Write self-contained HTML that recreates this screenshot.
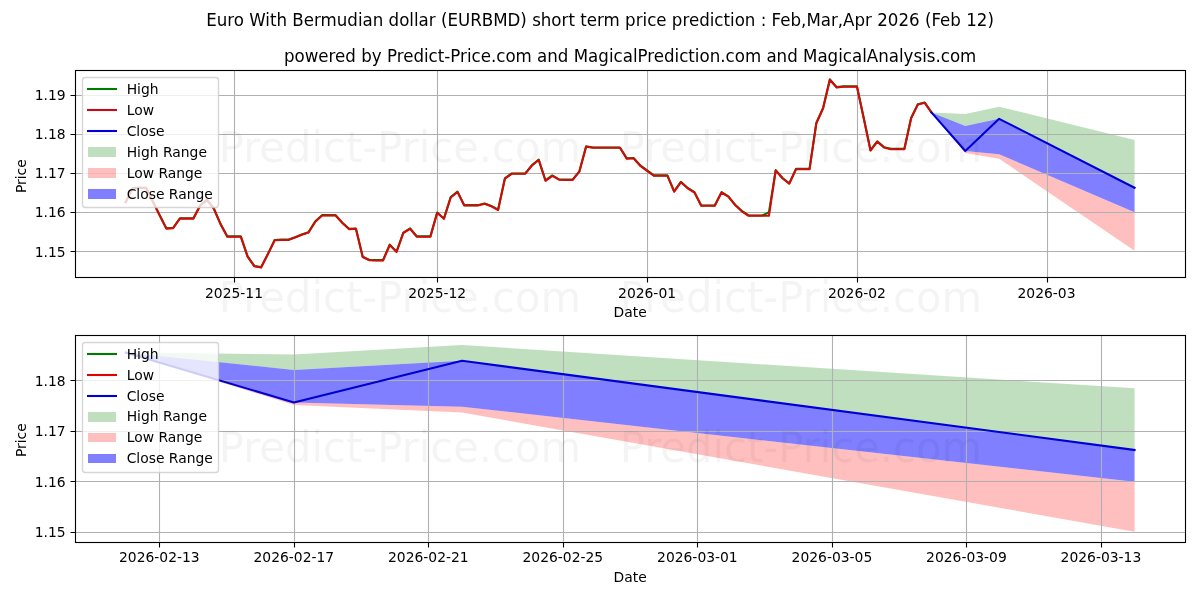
<!DOCTYPE html>
<html lang="en">
<head>
<meta charset="utf-8">
<title>Euro With Bermudian dollar (EURBMD) short term price prediction</title>
<style>
html,body{margin:0;padding:0;background:#fff;}
body{width:1200px;height:600px;overflow:hidden;}
svg{display:block;}
</style>
</head>
<body>
<svg width="1200" height="600" viewBox="0 0 1200 600" font-family="'DejaVu Sans', 'Liberation Sans', sans-serif" font-size="13.889" fill="#000">
<rect width="1200" height="600" fill="#fff"/>
<clipPath id="c1"><rect x="75.28" y="70.33" width="1109.72" height="206.56"/></clipPath>
<clipPath id="c2"><rect x="75.28" y="335.17" width="1109.72" height="206.56"/></clipPath>
<g clip-path="url(#c1)">
<polygon points="931.44,112.42 965.29,113.97 999.14,106.63 1134.56,140.08 1134.56,187.75 999.14,118.83 965.29,125.94 931.44,112.42" fill="#008000" fill-opacity="0.25"/>
<polygon points="931.44,112.42 965.29,151.05 999.14,154.3 1134.56,212.24 1134.56,250.87 999.14,158.78 965.29,152.98 931.44,112.42" fill="#ff0000" fill-opacity="0.25"/>
<polygon points="931.44,112.42 965.29,125.94 999.14,118.83 1134.56,187.75 1134.56,212.24 999.14,154.3 965.29,151.05 931.44,112.42" fill="#0000ff" fill-opacity="0.5"/>
<path d="M234.5 276.89V70.33M437.5 276.89V70.33M647.5 276.89V70.33M857.5 276.89V70.33M1047.5 276.89V70.33M75.28 95.5H1185M75.28 134.5H1185M75.28 173.5H1185M75.28 212.5H1185M75.28 251.5H1185" fill="none" stroke="#b0b0b0" stroke-width="1.111"/>
</g>
<path d="M234.5 277.5V282.5M437.5 277.5V282.5M647.5 277.5V282.5M857.5 277.5V282.5M1047.5 277.5V282.5M75.5 95.5H70.5M75.5 134.5H70.5M75.5 173.5H70.5M75.5 212.5H70.5M75.5 251.5H70.5" fill="none" stroke="#000" stroke-width="1.111"/>
<text x="234.05" y="298" text-anchor="middle">2025-11</text>
<text x="437.17" y="298" text-anchor="middle">2025-12</text>
<text x="647.07" y="298" text-anchor="middle">2026-01</text>
<text x="856.96" y="298" text-anchor="middle">2026-02</text>
<text x="1046.54" y="298" text-anchor="middle">2026-03</text>
<text x="65.56" y="257" text-anchor="end">1.15</text>
<text x="65.56" y="217" text-anchor="end">1.16</text>
<text x="65.56" y="178" text-anchor="end">1.17</text>
<text x="65.56" y="139" text-anchor="end">1.18</text>
<text x="65.56" y="100" text-anchor="end">1.19</text>
<text x="630.14" y="317" text-anchor="middle">Date</text>
<text transform="translate(26 176.2) rotate(-90)" text-anchor="middle">Price</text>
<g clip-path="url(#c1)" fill="none" stroke-width="2.083" stroke-linejoin="round" stroke-linecap="square">
<polyline points="125.72,201.85 132.49,188.15 139.26,187.65 146.03,187.65 152.8,201.25 159.57,214.85 166.34,228.25 173.11,227.85 179.89,218.25 186.66,218.25 193.43,218.25 200.2,205.35 206.97,199.65 213.74,208.25 220.51,223.85 227.28,236.35 234.05,236.35 240.82,236.35 247.59,256.35 254.36,265.95 261.13,267.15 267.9,253.85 274.68,239.95 281.45,239.65 288.22,239.65 294.99,237.25 301.76,234.45 308.53,232.15 315.3,221.35 322.07,215.15 328.84,215.15 335.61,215.15 342.38,222.65 349.15,228.85 355.92,228.45 362.7,256.65 369.47,259.95 376.24,260.15 383.01,260.15 389.78,244.65 396.55,251.65 403.32,232.65 410.09,228.45 416.86,236.35 423.63,236.35 430.4,236.35 437.17,212.45 443.94,218.45 450.71,197.15 457.49,191.65 464.26,205.15 471.03,205.15 477.8,205.15 484.57,203.45 491.34,205.95 498.11,209.65 504.88,178.35 511.65,173.45 518.42,173.45 525.19,173.45 531.96,165.15 538.73,159.65 545.5,180.45 552.28,175.45 559.05,179.35 565.82,179.65 572.59,179.65 579.36,171.35 586.13,146.35 592.9,147.45 599.67,147.45 606.44,147.45 613.21,147.45 619.98,147.45 626.75,158.35 633.52,157.95 640.29,165.45 647.07,170.45 653.84,175.35 660.61,175.35 667.38,175.35 674.15,191.35 680.92,181.85 687.69,187.95 694.46,192.15 701.23,205.45 708,205.45 714.77,205.45 721.54,192.15 728.31,196.35 735.09,204.65 741.86,210.95 748.63,215.45 755.4,215.45 762.17,215.45 768.94,212.3 775.71,170.15 782.48,177.95 789.25,183.35 796.02,168.85 802.79,168.85 809.56,168.85 816.33,122.95 823.1,107.95 829.88,79.35 836.65,87.15 843.42,86.35 850.19,86.35 856.96,86.35 863.73,117.95 870.5,150.15 877.27,141.35 884.04,147.15 890.81,148.85 897.58,148.85 904.35,148.85 911.12,117.95 917.89,104.15 924.67,102.45 931.44,112.15" stroke="#007a00"/>
<polyline points="125.72,202.2 132.49,188.5 139.26,188 146.03,188 152.8,201.6 159.57,215.2 166.34,228.6 173.11,228.2 179.89,218.6 186.66,218.6 193.43,218.6 200.2,205.7 206.97,200 213.74,208.6 220.51,224.2 227.28,236.7 234.05,236.7 240.82,236.7 247.59,256.7 254.36,266.3 261.13,267.5 267.9,254.2 274.68,240.3 281.45,240 288.22,240 294.99,237.6 301.76,234.8 308.53,232.5 315.3,221.7 322.07,215.5 328.84,215.5 335.61,215.5 342.38,223 349.15,229.2 355.92,228.8 362.7,257 369.47,260.3 376.24,260.5 383.01,260.5 389.78,245 396.55,252 403.32,233 410.09,228.8 416.86,236.7 423.63,236.7 430.4,236.7 437.17,212.8 443.94,218.8 450.71,197.5 457.49,192 464.26,205.5 471.03,205.5 477.8,205.5 484.57,203.8 491.34,206.3 498.11,210 504.88,178.7 511.65,173.8 518.42,173.8 525.19,173.8 531.96,165.5 538.73,160 545.5,180.8 552.28,175.8 559.05,179.7 565.82,180 572.59,180 579.36,171.7 586.13,146.7 592.9,147.8 599.67,147.8 606.44,147.8 613.21,147.8 619.98,147.8 626.75,158.7 633.52,158.3 640.29,165.8 647.07,170.8 653.84,175.7 660.61,175.7 667.38,175.7 674.15,191.7 680.92,182.2 687.69,188.3 694.46,192.5 701.23,205.8 708,205.8 714.77,205.8 721.54,192.5 728.31,196.7 735.09,205 741.86,211.3 748.63,215.8 755.4,215.8 762.17,215.8 768.94,215.8 775.71,170.5 782.48,178.3 789.25,183.7 796.02,169.2 802.79,169.2 809.56,169.2 816.33,123.3 823.1,108.3 829.88,79.7 836.65,87.5 843.42,86.7 850.19,86.7 856.96,86.7 863.73,118.3 870.5,150.5 877.27,141.7 884.04,147.5 890.81,149.2 897.58,149.2 904.35,149.2 911.12,118.3 917.89,104.5 924.67,102.8 931.44,112.5" stroke="#d40a0a"/>
<polyline points="931.44,112.42 965.29,151.05 999.14,118.83 1134.56,187.75" stroke="#0000d4"/>
</g>
<rect x="75.5" y="70.5" width="1110" height="207" fill="none" stroke="#000" stroke-width="1.111"/>
<text transform="translate(630.14 62) scale(1 1.09)" text-anchor="middle" font-size="16.667">powered by Predict-Price.com and MagicalPrediction.com and MagicalAnalysis.com</text>
<g clip-path="url(#c2)">
<polygon points="125.72,352.5 293.86,354.5 462,345 1134.56,388.3 1134.56,450 462,360.8 293.86,370 125.72,352.5" fill="#008000" fill-opacity="0.25"/>
<polygon points="125.72,352.5 293.86,402.5 462,406.7 1134.56,481.7 1134.56,531.7 462,412.5 293.86,405 125.72,352.5" fill="#ff0000" fill-opacity="0.25"/>
<polygon points="125.72,352.5 293.86,370 462,360.8 1134.56,450 1134.56,481.7 462,406.7 293.86,402.5 125.72,352.5" fill="#0000ff" fill-opacity="0.5"/>
<path d="M159.5 541.72V335.17M294.5 541.72V335.17M428.5 541.72V335.17M563.5 541.72V335.17M697.5 541.72V335.17M832.5 541.72V335.17M966.5 541.72V335.17M1101.5 541.72V335.17M75.28 380.5H1185M75.28 431.5H1185M75.28 481.5H1185M75.28 532.5H1185" fill="none" stroke="#b0b0b0" stroke-width="1.111"/>
</g>
<path d="M159.5 542.5V547.5M294.5 542.5V547.5M428.5 542.5V547.5M563.5 542.5V547.5M697.5 542.5V547.5M832.5 542.5V547.5M966.5 542.5V547.5M1101.5 542.5V547.5M75.5 380.5H70.5M75.5 431.5H70.5M75.5 481.5H70.5M75.5 532.5H70.5" fill="none" stroke="#000" stroke-width="1.111"/>
<text x="159.35" y="562" text-anchor="middle">2026-02-13</text>
<text x="293.86" y="562" text-anchor="middle">2026-02-17</text>
<text x="428.37" y="562" text-anchor="middle">2026-02-21</text>
<text x="562.88" y="562" text-anchor="middle">2026-02-25</text>
<text x="697.39" y="562" text-anchor="middle">2026-03-01</text>
<text x="831.91" y="562" text-anchor="middle">2026-03-05</text>
<text x="966.42" y="562" text-anchor="middle">2026-03-09</text>
<text x="1100.93" y="562" text-anchor="middle">2026-03-13</text>
<text x="65.56" y="537" text-anchor="end">1.15</text>
<text x="65.56" y="487" text-anchor="end">1.16</text>
<text x="65.56" y="436" text-anchor="end">1.17</text>
<text x="65.56" y="386" text-anchor="end">1.18</text>
<text x="630.14" y="582" text-anchor="middle">Date</text>
<text transform="translate(26 440.2) rotate(-90)" text-anchor="middle">Price</text>
<g clip-path="url(#c2)" fill="none" stroke-width="2.083" stroke-linejoin="round" stroke-linecap="square">
<polyline points="125.72,352.5 293.86,402.5 462,360.8 1134.56,450" stroke="#0000d4"/>
</g>
<rect x="75.5" y="335.5" width="1110" height="207" fill="none" stroke="#000" stroke-width="1.111"/>
<rect x="82.5" y="77.5" width="136" height="130" rx="2.78" fill="#fff" fill-opacity="0.8" stroke="#ccc" stroke-opacity="0.8" stroke-width="1.389"/>
<path d="M88.04 89H115.96" stroke="#007a00" stroke-width="2.083" stroke-linecap="square" fill="none"/>
<path d="M88.04 110H115.96" stroke="#c80a16" stroke-width="2.083" stroke-linecap="square" fill="none"/>
<path d="M88.04 131H115.96" stroke="#0000d4" stroke-width="2.083" stroke-linecap="square" fill="none"/>
<rect x="88" y="147" width="28" height="10" fill="#008000" fill-opacity="0.25"/>
<rect x="88" y="168" width="28" height="10" fill="#ff0000" fill-opacity="0.25"/>
<rect x="88" y="189" width="28" height="10" fill="#0000ff" fill-opacity="0.5"/>
<text x="126.67" y="94">High</text>
<text x="126.67" y="115">Low</text>
<text x="126.67" y="136">Close</text>
<text x="126.67" y="157">High Range</text>
<text x="126.67" y="178">Low Range</text>
<text x="126.67" y="199">Close Range</text>
<rect x="82.5" y="342.5" width="136" height="130" rx="2.78" fill="#fff" fill-opacity="0.8" stroke="#ccc" stroke-opacity="0.8" stroke-width="1.389"/>
<path d="M88.04 354H115.96" stroke="#007a00" stroke-width="2.083" stroke-linecap="square" fill="none"/>
<path d="M88.04 375H115.96" stroke="#e20000" stroke-width="2.083" stroke-linecap="square" fill="none"/>
<path d="M88.04 396H115.96" stroke="#0000d4" stroke-width="2.083" stroke-linecap="square" fill="none"/>
<rect x="88" y="412" width="28" height="10" fill="#008000" fill-opacity="0.25"/>
<rect x="88" y="433" width="28" height="9" fill="#ff0000" fill-opacity="0.25"/>
<rect x="88" y="454" width="28" height="9" fill="#0000ff" fill-opacity="0.5"/>
<text x="126.67" y="359">High</text>
<text x="126.67" y="380">Low</text>
<text x="126.67" y="401">Close</text>
<text x="126.67" y="421">High Range</text>
<text x="126.67" y="442">Low Range</text>
<text x="126.67" y="463">Close Range</text>
<text transform="translate(600 26) scale(1 1.09)" text-anchor="middle" font-size="16.667">Euro With Bermudian dollar (EURBMD) short term price prediction : Feb,Mar,Apr 2026 (Feb 12)</text>
<g font-size="41.667" fill="#000" fill-opacity="0.045" text-anchor="middle">
<text transform="translate(399.9 161.5) scale(1 1.035)">Predict-Price.com</text>
<text transform="translate(800.9 161.5) scale(1 1.035)">Predict-Price.com</text>
<text transform="translate(399.9 311.5) scale(1 1.035)">Predict-Price.com</text>
<text transform="translate(800.9 311.5) scale(1 1.035)">Predict-Price.com</text>
<text transform="translate(399.9 461.5) scale(1 1.035)">Predict-Price.com</text>
<text transform="translate(800.9 461.5) scale(1 1.035)">Predict-Price.com</text>
</g>
</svg>
</body>
</html>
